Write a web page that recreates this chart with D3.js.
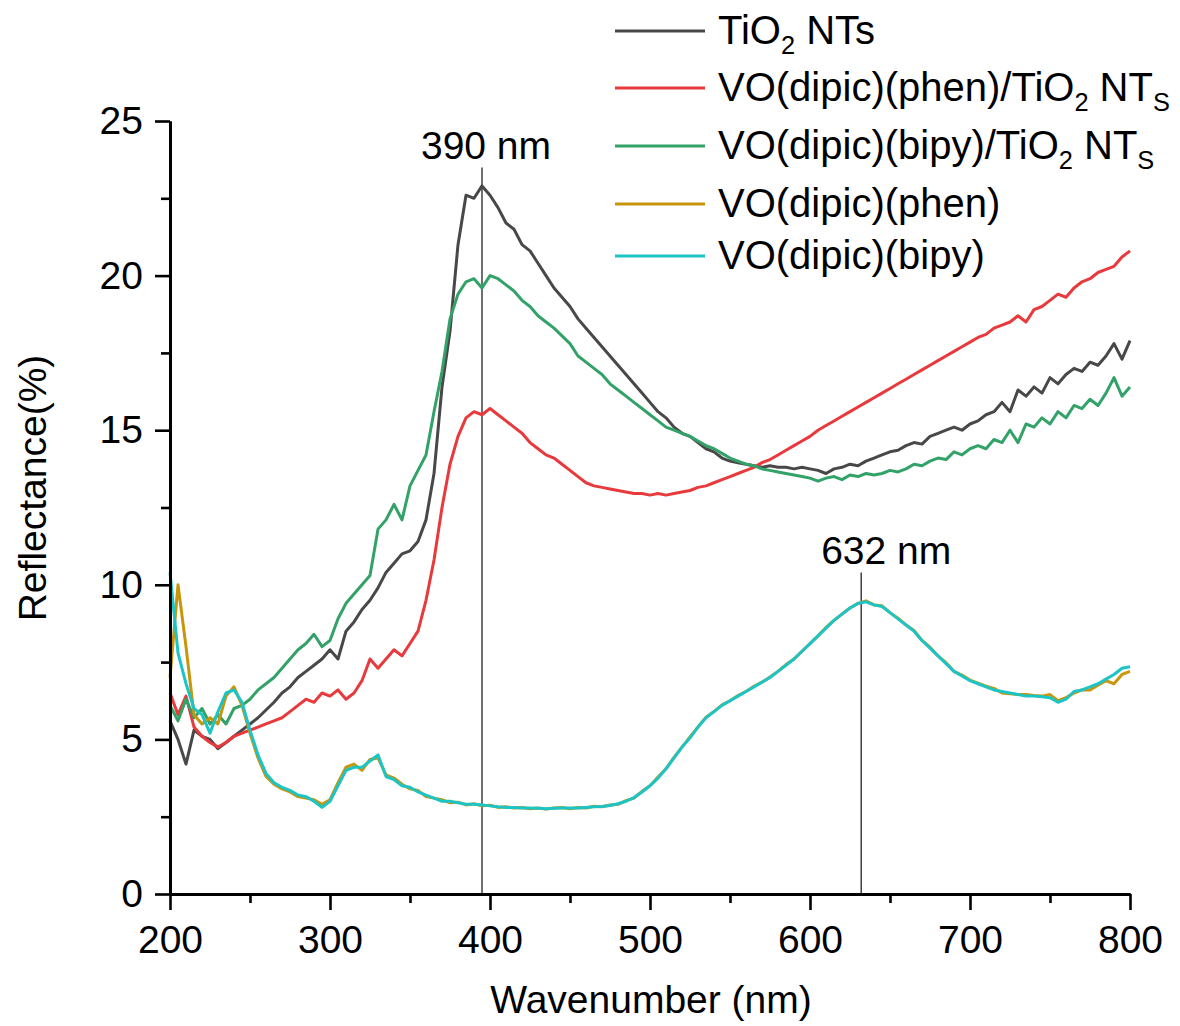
<!DOCTYPE html>
<html>
<head>
<meta charset="utf-8">
<script src="https://cdn.jsdelivr.net/npm/d3@7/dist/d3.min.js"></script>
<style>
  body { margin: 0; background: #fff; }
  svg text { font-family: "Liberation Sans", Arial, sans-serif; fill: #000; }
</style>
</head>
<body>
<div id="chart"></div>
<script>
// longitudes de onda (nm), paso de 5 nm
const wavelengths = d3.range(200, 801, 5);

// TiO2 NTs
const tio2 = [5.6,5.0,4.2,5.3,5.1,5.0,4.7,4.9,5.1,5.3,5.5,5.7,5.95,6.2,6.5,6.7,7.0,7.2,7.4,7.6,
  7.9,7.6,8.5,8.8,9.2,9.5,9.9,10.4,10.7,11.0,11.1,11.4,12.1,13.6,16.4,18.2,21.0,22.6,22.5,22.9,
  22.6,22.2,21.7,21.5,21.0,20.8,20.4,20.0,19.6,19.3,19.0,18.6,18.3,18.0,17.7,17.4,17.1,16.8,16.5,16.2,
  15.9,15.6,15.4,15.1,14.9,14.8,14.6,14.4,14.3,14.1,14.0,13.95,13.9,13.85,13.8,13.85,13.8,13.8,13.75,13.8,
  13.75,13.7,13.6,13.75,13.8,13.9,13.85,14.0,14.1,14.2,14.3,14.35,14.5,14.6,14.55,14.8,14.9,15.0,15.1,15.0,
  15.2,15.3,15.5,15.6,15.9,15.6,16.3,16.1,16.4,16.2,16.7,16.5,16.8,17.0,16.9,17.2,17.1,17.4,17.8,17.3,17.9];

// VO(dipic)(phen)/TiO2 NTs
const phenTio2 = [6.5,5.8,6.4,5.4,5.1,4.9,4.75,4.9,5.1,5.2,5.3,5.4,5.5,5.6,5.7,5.9,6.1,6.3,6.2,6.5,
  6.4,6.6,6.3,6.5,6.9,7.6,7.3,7.6,7.9,7.7,8.1,8.5,9.5,10.8,12.5,13.9,14.8,15.4,15.6,15.5,
  15.7,15.5,15.3,15.1,14.9,14.6,14.4,14.2,14.1,13.9,13.7,13.5,13.3,13.2,13.15,13.1,13.05,13.0,12.95,12.95,
  12.9,12.95,12.9,12.95,13.0,13.05,13.15,13.2,13.3,13.4,13.5,13.6,13.7,13.8,13.95,14.05,14.2,14.35,14.5,14.65,
  14.8,15.0,15.15,15.3,15.45,15.6,15.75,15.9,16.05,16.2,16.35,16.5,16.65,16.8,16.95,17.1,17.25,17.4,17.55,17.7,
  17.85,18.0,18.1,18.3,18.4,18.5,18.7,18.5,18.9,19.0,19.2,19.4,19.3,19.6,19.8,19.9,20.1,20.2,20.3,20.6,20.8];

// VO(dipic)(bipy)/TiO2 NTs
const bipyTio2 = [6.1,5.6,6.3,5.7,6.0,5.5,5.8,5.5,6.0,6.1,6.3,6.6,6.8,7.0,7.3,7.6,7.9,8.1,8.4,8.0,
  8.2,8.9,9.4,9.7,10.0,10.3,11.8,12.1,12.6,12.1,13.2,13.7,14.2,15.6,16.9,18.6,19.4,19.8,19.9,19.6,
  20.0,19.9,19.7,19.5,19.2,19.0,18.7,18.5,18.3,18.05,17.8,17.4,17.2,17.0,16.8,16.5,16.3,16.1,15.9,15.7,
  15.5,15.3,15.1,15.0,14.9,14.8,14.65,14.5,14.4,14.25,14.1,14.0,13.9,13.85,13.75,13.7,13.65,13.6,13.55,13.5,
  13.45,13.35,13.45,13.5,13.4,13.55,13.5,13.6,13.55,13.6,13.7,13.65,13.75,13.9,13.85,14.0,14.1,14.05,14.3,14.2,
  14.4,14.5,14.4,14.7,14.6,15.0,14.6,15.2,15.1,15.4,15.2,15.6,15.4,15.8,15.7,16.0,15.8,16.2,16.7,16.1,16.4];

// VO(dipic)(phen)
const phen = [7.0,10.0,8.0,5.8,5.5,5.7,5.5,6.4,6.7,6.1,5.2,4.4,3.8,3.55,3.4,3.3,3.15,3.1,3.05,2.9,
  3.05,3.6,4.1,4.2,4.0,4.35,4.4,3.85,3.75,3.55,3.4,3.35,3.15,3.1,3.05,2.95,2.97,2.88,2.92,2.85,
  2.87,2.8,2.82,2.78,2.8,2.76,2.78,2.75,2.78,2.8,2.76,2.8,2.78,2.84,2.82,2.88,2.9,3.02,3.1,3.32,
  3.5,3.78,4.05,4.42,4.75,5.08,5.4,5.72,5.9,6.12,6.25,6.42,6.55,6.72,6.85,7.02,7.2,7.42,7.6,7.85,
  8.1,8.35,8.62,8.85,9.05,9.25,9.4,9.48,9.35,9.32,9.1,8.92,8.7,8.52,8.2,7.98,7.7,7.48,7.2,7.08,
  6.92,6.82,6.72,6.65,6.5,6.48,6.45,6.45,6.42,6.4,6.45,6.25,6.35,6.5,6.6,6.6,6.75,6.9,6.8,7.1,7.2];

// VO(dipic)(bipy)
const bipy = [10.4,7.8,6.8,6.0,5.8,5.2,5.9,6.5,6.6,6.2,5.3,4.5,3.9,3.6,3.45,3.35,3.2,3.15,3.0,2.8,
  3.0,3.5,4.0,4.1,4.1,4.3,4.5,3.8,3.7,3.5,3.45,3.3,3.2,3.1,3.0,3.0,2.95,2.9,2.9,2.88,
  2.85,2.82,2.8,2.8,2.78,2.78,2.77,2.76,2.77,2.78,2.78,2.78,2.8,2.82,2.83,2.86,2.92,3.0,3.12,3.3,
  3.5,3.75,4.05,4.4,4.75,5.05,5.4,5.7,5.9,6.1,6.25,6.4,6.55,6.7,6.85,7.0,7.2,7.4,7.6,7.85,
  8.1,8.35,8.6,8.85,9.05,9.25,9.4,9.45,9.35,9.3,9.1,8.9,8.7,8.5,8.2,7.95,7.7,7.45,7.2,7.05,
  6.9,6.8,6.7,6.6,6.55,6.5,6.45,6.4,6.4,6.38,6.35,6.2,6.3,6.55,6.6,6.7,6.8,6.95,7.1,7.3,7.35];

// nombres de leyenda: [texto, subindice "2", texto, subindice final]
const seriesNames = [
  ["TiO", "2", " NTs", ""],
  ["VO(dipic)(phen)/TiO", "2", " NT", "S"],
  ["VO(dipic)(bipy)/TiO", "2", " NT", "S"],
  ["VO(dipic)(phen)", "", "", ""],
  ["VO(dipic)(bipy)", "", "", ""]
];
const seriesValues = [tio2, phenTio2, bipyTio2, phen, bipy];
const seriesColors = ["#484848", "#e8393c", "#33a268", "#c8960c", "#1cc4c6"];

const xTicks = [200, 300, 400, 500, 600, 700, 800];
const yTicks = [0, 5, 10, 15, 20, 25];
const peaks = [{pos: 395, label: "390 nm", top: 23.5, dx: 4}, {pos: 632, label: "632 nm", top: 10.4, dx: 25}];

// Configuración
const width = 1180, height = 1026;
const font = 39;

const svg = d3.select("#chart").append("svg")
  .attr("width", width)
  .attr("height", height);

const x = d3.scaleLinear().domain([200, 800]).range([170, 1130]);
const y = d3.scaleLinear().domain([0, 25]).range([894, 121]);

// lineas verticales de los picos
svg.selectAll(".peak")
  .data(peaks)
  .enter().append("line")
  .attr("x1", d => x(d.pos)).attr("x2", d => x(d.pos))
  .attr("y1", d => y(d.top)).attr("y2", y(0))
  .style("stroke", "#333")
  .style("stroke-width", 1.4);

svg.selectAll(".peakLabel")
  .data(peaks)
  .enter().append("text")
  .attr("x", d => x(d.pos) + d.dx)
  .attr("y", d => y(d.top) - 8)
  .attr("text-anchor", "middle")
  .style("font-size", font + "px")
  .text(d => d.label);

// curvas
const line = d3.line()
  .x((d, i) => x(wavelengths[i]))
  .y(d => y(d));

seriesValues.forEach(function(vals, i) {
  svg.append("path")
    .datum(vals)
    .attr("d", line)
    .style("fill", "none")
    .style("stroke", seriesColors[i])
    .style("stroke-width", 3)
    .style("stroke-linejoin", "round");
});

// ejes
svg.append("g")
  .attr("transform", "translate(0," + y(0) + ")")
  .call(d3.axisBottom(x).tickValues(xTicks).tickSize(16).tickPadding(15).tickSizeOuter(0));
svg.append("g")
  .attr("transform", "translate(0," + y(0) + ")")
  .call(d3.axisBottom(x).tickValues(d3.range(250, 800, 100)).tickSize(9).tickFormat("").tickSizeOuter(0));

svg.append("g")
  .attr("transform", "translate(" + x(200) + ",0)")
  .call(d3.axisLeft(y).tickValues(yTicks).tickSize(15).tickPadding(12).tickSizeOuter(0));
svg.append("g")
  .attr("transform", "translate(" + x(200) + ",0)")
  .call(d3.axisLeft(y).tickValues(d3.range(2.5, 25, 5)).tickSize(9).tickFormat("").tickSizeOuter(0));

svg.selectAll(".domain").style("stroke", "#000").style("stroke-width", 3);
svg.selectAll(".tick line").style("stroke", "#000").style("stroke-width", 2.6);
svg.selectAll(".tick text")
  .style("font-size", font + "px")
  .style("font-family", "'Liberation Sans', Arial, sans-serif")
  .style("fill", "#000");

// titulos de ejes
svg.append("text")
  .attr("x", 651).attr("y", 1013)
  .attr("text-anchor", "middle")
  .style("font-size", font + "px")
  .text("Wavenumber (nm)");

svg.append("text")
  .attr("transform", "translate(46,488) rotate(-90)")
  .attr("text-anchor", "middle")
  .style("font-size", font + "px")
  .text("Reflectance(%)");

// leyenda
const legendRows = [31, 88, 146, 204, 256];
const legend = svg.selectAll(".legend")
  .data(seriesNames)
  .enter().append("g")
  .attr("transform", (d, i) => "translate(615," + legendRows[i] + ")");

legend.append("line")
  .attr("x1", 0).attr("x2", 90)
  .style("stroke", (d, i) => seriesColors[i])
  .style("stroke-width", 3.2);

legend.each(function(parts) {
  const t = d3.select(this).append("text")
    .attr("x", 103).attr("y", 13)
    .style("font-size", (font + 1) + "px");
  t.append("tspan").text(parts[0]);
  if (parts[1]) {
    t.append("tspan").attr("dy", 10).style("font-size", (font * 0.65) + "px").text(parts[1]);
    t.append("tspan").attr("dy", -10).text(parts[2]);
  }
  if (parts[3]) {
    t.append("tspan").attr("dy", 10).style("font-size", (font * 0.65) + "px").text(parts[3]);
  }
});
</script>
</body>
</html>
